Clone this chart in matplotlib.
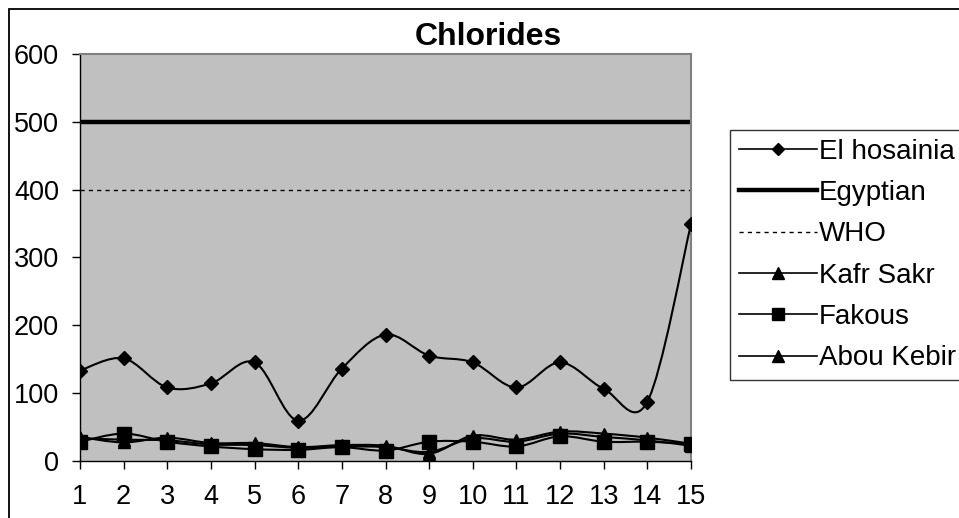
import numpy as np
import matplotlib.pyplot as plt
from matplotlib.path import Path
from matplotlib.patches import PathPatch, Rectangle
from matplotlib.lines import Line2D

plt.rcParams['font.family'] = ['Liberation Sans', 'DejaVu Sans']

# dados
amostras = list(range(1, 16))
el_hosainia = [133, 151, 108, 114, 145, 59, 136, 186, 155, 145, 108, 145, 106, 87, 349]
kafr_sakr = [35, 27, 34, 26, 26, 20, 23, 22, 10, 37, 31, 43, 40, 34, 25]
fakous = [28, 40, 28, 21, 17, 16, 20, 15, 28, 28, 21, 36, 28, 28, 25]
abou_kebir = [33, 31, 30, 24, 23, 19, 21, 20, 13, 33, 28, 40, 35, 30, 22]
egyptian = [500] * 15
who = [400] * 15
yticks = [0, 100, 200, 300, 400, 500, 600]


# curva suavizada (bezier estilo Excel) passando pelos pontos
def curva_suave(ax, xs, ys, lw=1.5):
    xs = np.asarray(xs, float)
    ys = np.asarray(ys, float)
    n = len(xs)
    verts = [(xs[0], ys[0])]
    codes = [Path.MOVETO]
    for i in range(n - 1):
        i0 = max(i - 1, 0)
        i3 = min(i + 2, n - 1)
        c1 = (xs[i] + (xs[i + 1] - xs[i0]) / 6, ys[i] + (ys[i + 1] - ys[i0]) / 6)
        c2 = (xs[i + 1] - (xs[i3] - xs[i]) / 6, ys[i + 1] - (ys[i3] - ys[i]) / 6)
        verts += [c1, c2, (xs[i + 1], ys[i + 1])]
        codes += [Path.CURVE4] * 3
    ax.add_patch(PathPatch(Path(verts, codes), facecolor='none', edgecolor='black', lw=lw, zorder=3))


fig = plt.figure(figsize=(9.59, 5.18), dpi=100)
ax = fig.add_axes([80 / 959, 1 - 460.7 / 518, (691 - 80) / 959, (460.7 - 54) / 518])
ax.set_facecolor('#c0c0c0')

# borda externa do grafico
fig.patches.append(Rectangle((9 / 959, -0.2), 1.2, 1.2 - 9 / 518, transform=fig.transFigure,
                             fill=False, edgecolor='black', lw=1.3))

ax.plot(amostras, egyptian, color='black', lw=3.2, zorder=2)
ax.plot(amostras, who, color='black', lw=1, dashes=(3, 3), zorder=2)

for serie in [el_hosainia, kafr_sakr, fakous, abou_kebir]:
    curva_suave(ax, amostras, serie)

ax.plot(amostras, el_hosainia, 'D', color='black', ms=7.5, zorder=4, linestyle='none')
ax.plot(amostras, kafr_sakr, '^', color='black', ms=8.5, zorder=4, linestyle='none')
ax.plot(amostras, abou_kebir, '^', color='black', ms=8.5, zorder=4, linestyle='none')
ax.plot(amostras, fakous, 's', color='black', ms=10, zorder=5, linestyle='none')

ax.set_xlim(1, 15)
ax.set_ylim(0, 600)
ax.set_xticks(amostras)
ax.set_yticks(yticks)
ax.tick_params(axis='both', direction='out', length=6, width=1, labelsize=19.5, color='black')
ax.tick_params(axis='x', pad=11)
ax.tick_params(axis='y', pad=9)
for s in ['top', 'right']:
    ax.spines[s].set_color('#808080')
    ax.spines[s].set_linewidth(1.5)
for s in ['left', 'bottom']:
    ax.spines[s].set_color('black')
    ax.spines[s].set_linewidth(1)

fig.text(488 / 959, 1 - 37 / 518, 'Chlorides', ha='center', va='center', fontsize=23, fontweight='bold')

handles = [
    Line2D([], [], color='black', lw=1.2, marker='D', ms=6),
    Line2D([], [], color='black', lw=3.2),
    Line2D([], [], color='black', lw=1, dashes=(3, 3)),
    Line2D([], [], color='black', lw=1.2, marker='^', ms=8),
    Line2D([], [], color='black', lw=1.2, marker='s', ms=9),
    Line2D([], [], color='black', lw=1.2, marker='^', ms=8),
]
nomes = ['El hosainia', 'Egyptian', 'WHO', 'Kafr Sakr', 'Fakous', 'Abou Kebir']
leg = fig.legend(handles, nomes, loc='upper left', bbox_to_anchor=(730 / 959, 1 - 130 / 518),
                 frameon=True, fancybox=False, edgecolor='black', fontsize=20,
                 handlelength=2.8, handletextpad=0.08, labelspacing=0.55, borderpad=0.32,
                 borderaxespad=0)
leg.get_frame().set_linewidth(1)

fig.savefig('out.png', dpi=100)
